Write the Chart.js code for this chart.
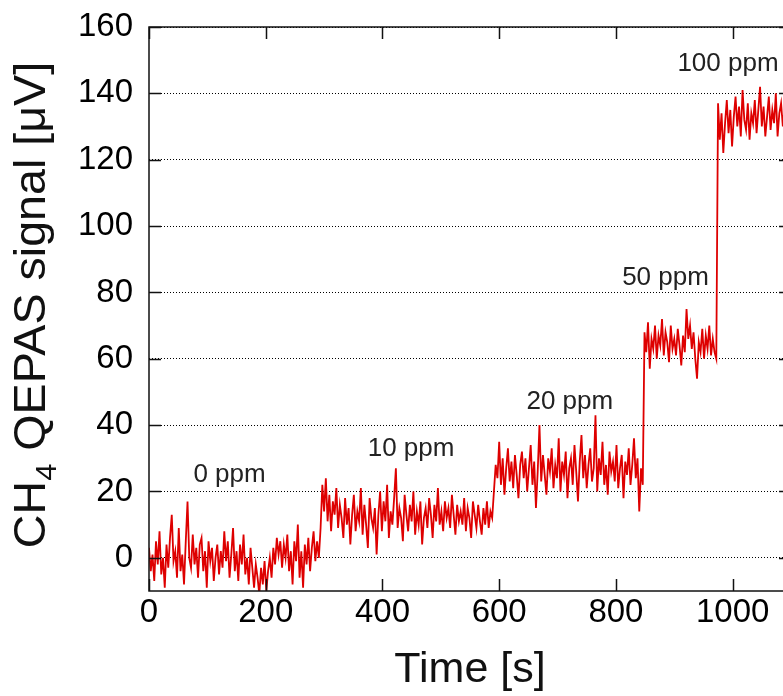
<!DOCTYPE html>
<html>
<head>
<meta charset="utf-8">
<script src="https://cdn.jsdelivr.net/npm/chart.js@4.4.1/dist/chart.umd.min.js"></script>
<style>
  html, body { margin: 0; padding: 0; overflow: hidden; background: #fff; width: 783px; height: 696px; }
  #wrap { width: 800px; height: 696px; }
</style>
</head>
<body>
<div id="wrap"><canvas id="c" width="800" height="696"></canvas></div>
<script>
// ---- data ----
const sampleStep = 3; // s between samples
const segmentStarts = [0, 297, 591, 849, 975]; // s
const zeroPpm = [
  3,-4,1,-7,5,-2,8,-5,0,-9,
  4,-3,6,13,-1,2,-6,9,-4,1,
  -8,5,17,0,-3,7,-2,3,-6,4,
  6,-4,2,-9,5,-1,3,-7,0,4,
  -5,2,-3,8,-1,5,-6,1,9,-4,
  2,-7,4,-2,7,-5,0,-8,3,-3,
  -9,-2,-6,-11,-3,-8,-1,-10,-4,0,
  -6,3,-2,6,1,5,-3,4,0,7,
  -4,2,-8,5,-1,10,-6,2,-9,4,
  -2,6,-4,3,8,-1,5,0,9];
const tenPpm = [
  22,14,24,11,19,8,17,13,21,9,
  16,12,6,18,10,15,4,13,19,8,
  14,11,21,7,16,10,3,18,12,9,
  15,1,13,20,8,17,11,22,6,14,
  10,18,27,9,15,12,5,19,13,8,
  16,11,20,7,14,10,17,4,12,15,
  9,18,13,6,16,11,21,10,14,8,
  17,12,15,9,19,13,7,16,11,14,
  10,18,8,15,12,6,17,13,9,16,
  11,7,15,10,17,9,14,12];
const twentyPpm = [
  20,28,24,35,22,30,19,27,33,23,
  29,21,31,25,18,28,32,24,30,20,
  27,34,22,29,15,26,40,23,31,25,
  19,30,26,33,21,28,24,36,20,29,
  25,32,18,27,30,22,34,26,17,29,
  37,24,31,21,28,33,23,27,43,20,
  30,25,35,22,28,19,32,26,29,23,
  34,21,27,31,18,29,25,33,22,28,
  36,24,30,14,27,22];
const fiftyPpm = [
  68,62,71,57,66,63,70,60,67,64,
  72,61,68,65,59,70,63,66,61,69,
  64,58,67,62,75,66,70,63,68,60,
  54,65,62,69,60,67,63,70,61,66,
  62,60];
const hundredPpm = [
  137,126,134,122,131,138,128,135,124,133,
  139,130,136,127,141,132,129,137,126,134,
  131,138,128,135,142,130,136,127,133,139,
  129,135,131,140,127,134,137,130,136,132,
  138,129,134];
const segments = [zeroPpm, tenPpm, twentyPpm, fiftyPpm, hundredPpm];

const concLabels = ['0 ppm', '10 ppm', '20 ppm', '50 ppm', '100 ppm'];
const xTickValues = [0, 200, 400, 600, 800, 1000];
const yTickValues = [0, 20, 40, 60, 80, 100, 120, 140, 160];
const xTitle = 'Time [s]';
const yTitleParts = ['CH', '4', ' QEPAS signal [\u03bcV]'];

// ---- build points ----
const points = [];
segments.forEach((seg, s) => {
  seg.forEach((v, i) => points.push({ x: segmentStarts[s] + i * sampleStep, y: v }));
});

// annotation anchors (data coordinates) kept separate from the data
const labelAnchors = [
  { t: 138, v: 25 }, { t: 449, v: 33 }, { t: 721, v: 47 }, { t: 885, v: 84.5 }, { t: 992, v: 149 }
];

const FONT = '"Liberation Sans", Arial, Helvetica, sans-serif';

const framePlugin = {
  id: 'frame',
  afterDatasetsDraw(chart) {
    const { ctx, chartArea: a, scales } = chart;
    const xs = scales.x, ys = scales.y;
    ctx.save();
    ctx.strokeStyle = '#111';
    ctx.lineWidth = 1.5;
    ctx.setLineDash([]);
    ctx.strokeRect(a.left, a.top, a.right - a.left, a.bottom - a.top);
    const tl = 12;
    ctx.beginPath();
    xTickValues.forEach(v => {
      const px = Math.round(xs.getPixelForValue(v)) + 0.5;
      ctx.moveTo(px, a.bottom); ctx.lineTo(px, a.bottom - tl);
      ctx.moveTo(px, a.top); ctx.lineTo(px, a.top + tl);
    });
    yTickValues.forEach(v => {
      const py = Math.round(ys.getPixelForValue(v)) + 0.5;
      ctx.moveTo(a.left, py); ctx.lineTo(a.left + tl, py);
      ctx.moveTo(a.right, py); ctx.lineTo(a.right - tl, py);
    });
    ctx.stroke();

    // concentration labels
    ctx.fillStyle = '#222';
    ctx.font = '26px ' + FONT;
    ctx.textAlign = 'center';
    ctx.textBaseline = 'middle';
    labelAnchors.forEach((p, i) => {
      ctx.fillText(concLabels[i], xs.getPixelForValue(p.t), ys.getPixelForValue(p.v));
    });

    // x title
    ctx.fillStyle = '#111';
    ctx.font = '43px ' + FONT;
    ctx.textBaseline = 'alphabetic';
    ctx.fillText(xTitle, (a.left + a.right) / 2, 682);

    // y title with subscript
    ctx.save();
    ctx.translate(45, (a.top + a.bottom) / 2 - 4);
    ctx.rotate(-Math.PI / 2);
    ctx.scale(1.06, 1);
    const big = '44px ' + FONT, small = '29px ' + FONT;
    ctx.font = big; const w1 = ctx.measureText(yTitleParts[0]).width;
    ctx.font = small; const w2 = ctx.measureText(yTitleParts[1]).width;
    ctx.font = big; const w3 = ctx.measureText(yTitleParts[2]).width;
    let x0 = -(w1 + w2 + w3) / 2;
    ctx.textAlign = 'left';
    ctx.font = big; ctx.fillText(yTitleParts[0], x0, 0);
    ctx.font = small; ctx.fillText(yTitleParts[1], x0 + w1, 11);
    ctx.font = big; ctx.fillText(yTitleParts[2], x0 + w1 + w2, 0);
    ctx.restore();
    ctx.restore();
  }
};

new Chart(document.getElementById('c'), {
  type: 'line',
  data: {
    datasets: [{
      data: points,
      borderColor: 'rgb(222,0,0)',
      borderWidth: 1.8,
      pointRadius: 0,
      tension: 0,
      fill: false
    }]
  },
  options: {
    responsive: false,
    animation: false,
    devicePixelRatio: 1,
    layout: { autoPadding: false, padding: { left: 0, top: 27, right: 9, bottom: 0 } },
    plugins: { legend: { display: false }, tooltip: { enabled: false } },
    scales: {
      x: {
        type: 'linear', min: 0, max: 1100,
        afterBuildTicks: s => { s.ticks = xTickValues.map(v => ({ value: v })); },
        afterFit: s => { s.height = 105; },
        ticks: { color: '#000', font: { family: FONT, size: 33 }, padding: 2, maxRotation: 0, autoSkip: false, callback: v => String(v) },
        grid: { display: false, drawTicks: false },
        border: { display: false }
      },
      y: {
        type: 'linear', min: -10, max: 160,
        afterBuildTicks: s => { s.ticks = yTickValues.map(v => ({ value: v })); },
        afterFit: s => { s.width = 149; },
        ticks: { color: '#000', font: { family: FONT, size: 33 }, padding: 0, autoSkip: false, callback: v => String(v) },
        grid: { color: '#000', lineWidth: 1, drawTicks: true, tickLength: 16, tickColor: 'rgba(0,0,0,0)' },
        border: { display: false, dash: [1, 2] }
      }
    }
  },
  plugins: [framePlugin]
});
</script>
</body>
</html>
